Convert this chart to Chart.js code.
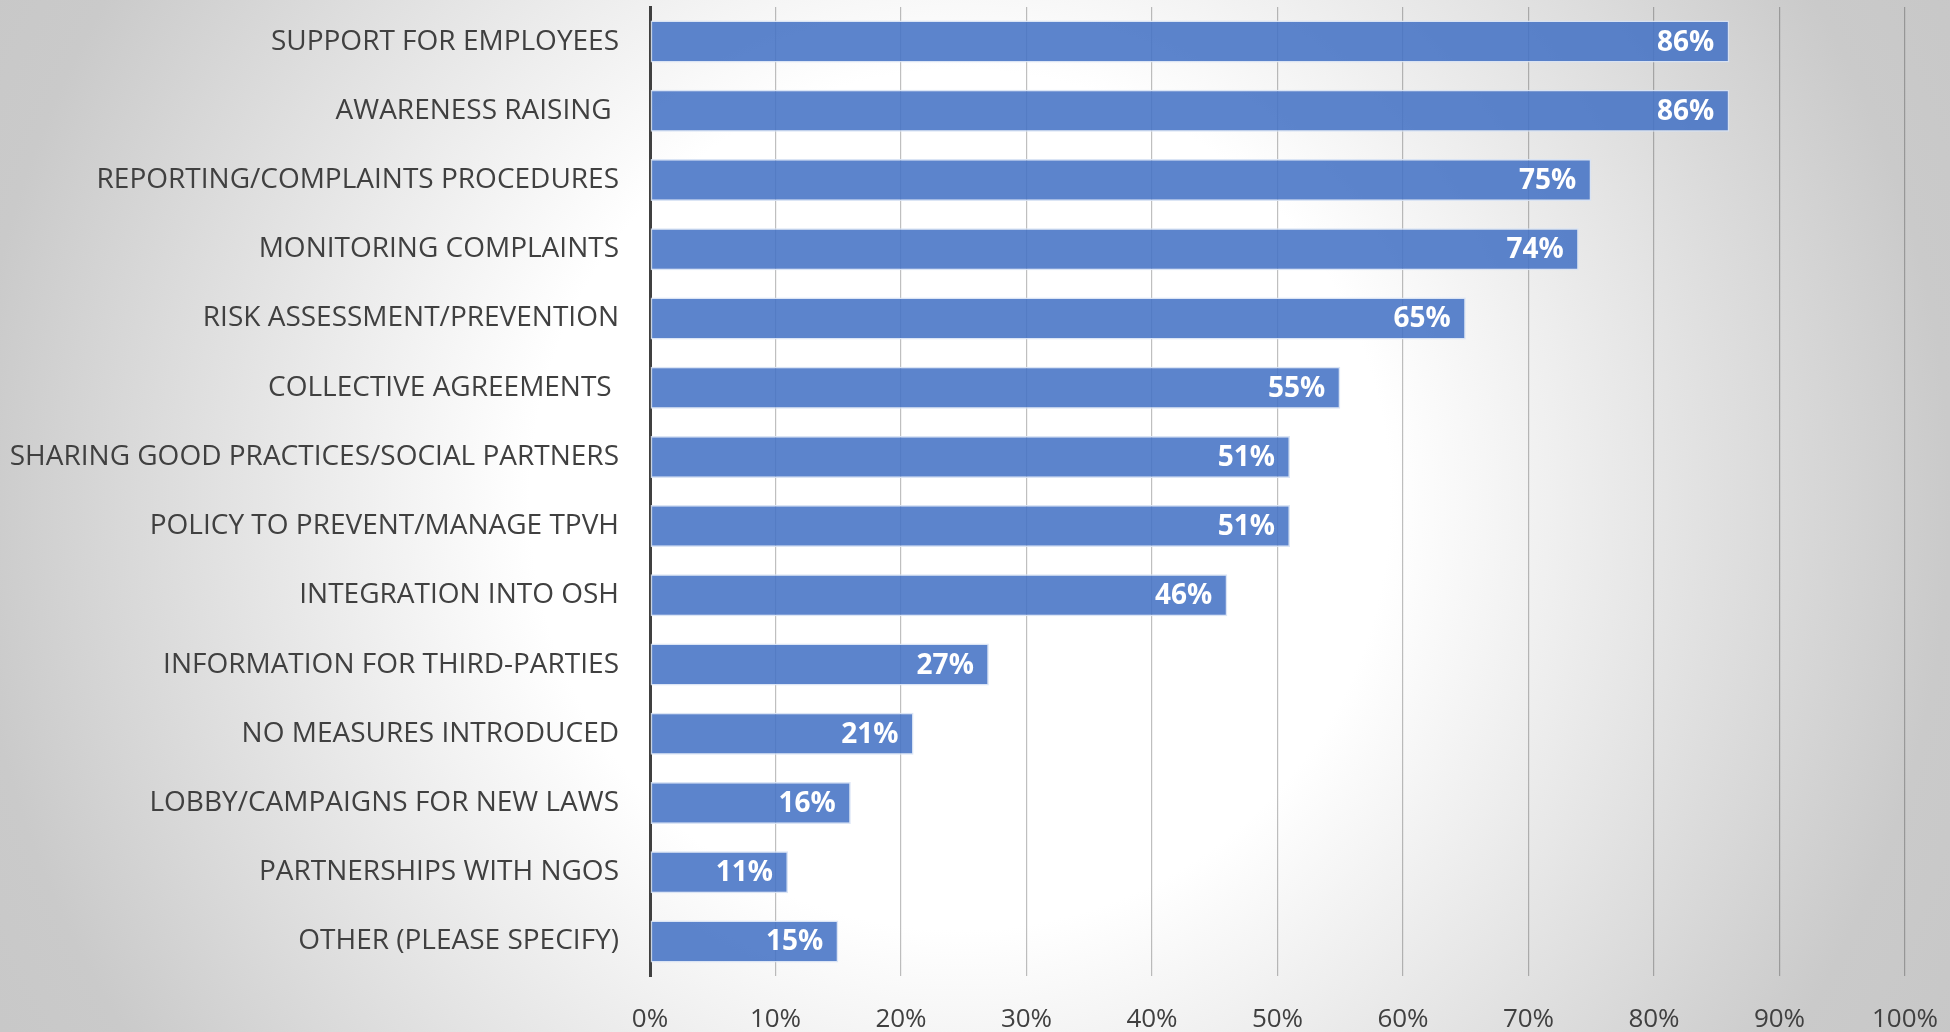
<!DOCTYPE html>
<html>
<head>
<meta charset="utf-8">
<title>Measures introduced</title>
<script src="https://cdn.jsdelivr.net/npm/chart.js@4.4.1/dist/chart.umd.min.js"></script>
<style>
  html, body { margin: 0; padding: 0; }
  body {
    width: 1950px;
    height: 1032px;
    overflow: hidden;
    background: radial-gradient(circle at 960px 500px, #ffffff 0px, #ffffff 430px, #cacaca 990px, #c6c6c6 1200px);
  }
  #wrap { position: relative; width: 1950px; height: 1032px; }
</style>
</head>
<body>
<div id="wrap"><canvas id="myChartbar"></canvas></div>
<script>
const categories = [
  'SUPPORT FOR EMPLOYEES',
  'AWARENESS RAISING ',
  'REPORTING/COMPLAINTS PROCEDURES',
  'MONITORING COMPLAINTS',
  'RISK ASSESSMENT/PREVENTION',
  'COLLECTIVE AGREEMENTS ',
  'SHARING GOOD PRACTICES/SOCIAL PARTNERS',
  'POLICY TO PREVENT/MANAGE TPVH',
  'INTEGRATION INTO OSH',
  'INFORMATION FOR THIRD-PARTIES',
  'NO MEASURES INTRODUCED',
  'LOBBY/CAMPAIGNS FOR NEW LAWS',
  'PARTNERSHIPS WITH NGOS',
  'OTHER (PLEASE SPECIFY)'
];
const percentages = [86, 86, 75, 74, 65, 55, 51, 51, 46, 27, 21, 16, 11, 15];
const axisMin = 0;
const axisMax = 100;
const axisStep = 10;

// white percentage text at the right end of every bar
const barLabels = {
  id: 'barLabels',
  afterDatasetsDraw(chart) {
    const ctx = chart.ctx;
    const meta = chart.getDatasetMeta(0);
    ctx.save();
    ctx.font = 'bold 28px "Open Sans"';
    ctx.fillStyle = '#ffffff';
    ctx.textAlign = 'right';
    ctx.textBaseline = 'middle';
    meta.data.forEach((bar, i) => {
      ctx.fillText(percentages[i] + '%', bar.x - 15, bar.y + 1);
    });
    ctx.restore();
  }
};

const ctx = document.getElementById('myChartbar').getContext('2d');

new Chart(ctx, {
  type: 'bar',
  data: {
    labels: categories,
    datasets: [{
      data: percentages,
      backgroundColor: 'rgba(68, 114, 196, 0.87)',
      borderColor: 'rgba(215, 226, 244, 0.9)',
      borderWidth: 1.5,
      borderSkipped: false,
      categoryPercentage: 1,
      barPercentage: 0.607
    }]
  },
  options: {
    indexAxis: 'y',
    responsive: true,
    maintainAspectRatio: false,
    animation: false,
    layout: { padding: { top: 7, right: 45, left: 0, bottom: 0 } },
    plugins: {
      legend: { display: false },
      tooltip: { enabled: false }
    },
    scales: {
      x: {
        min: axisMin,
        max: axisMax,
        grid: { color: 'rgba(0, 0, 0, 0.25)', lineWidth: 1.2, drawTicks: false },
        border: { display: false },
        ticks: {
          stepSize: axisStep,
          padding: 28,
          color: '#404040',
          font: { family: 'Open Sans', size: 26 },
          callback: v => v + '%'
        },
        afterFit: scale => {
          scale.height = 56;
          scale.paddingLeft = 0;
          scale.paddingRight = 0;
        }
      },
      y: {
        grid: { display: false },
        border: { display: true, color: '#404040', width: 3 },
        ticks: {
          padding: 23,
          color: '#404040',
          font: { family: 'Open Sans', size: 28 }
        },
        afterFit: scale => {
          scale.width = 650;
          scale.paddingTop = 0;
          scale.paddingBottom = 0;
        }
      }
    }
  },
  plugins: [barLabels]
});
</script>
</body>
</html>
